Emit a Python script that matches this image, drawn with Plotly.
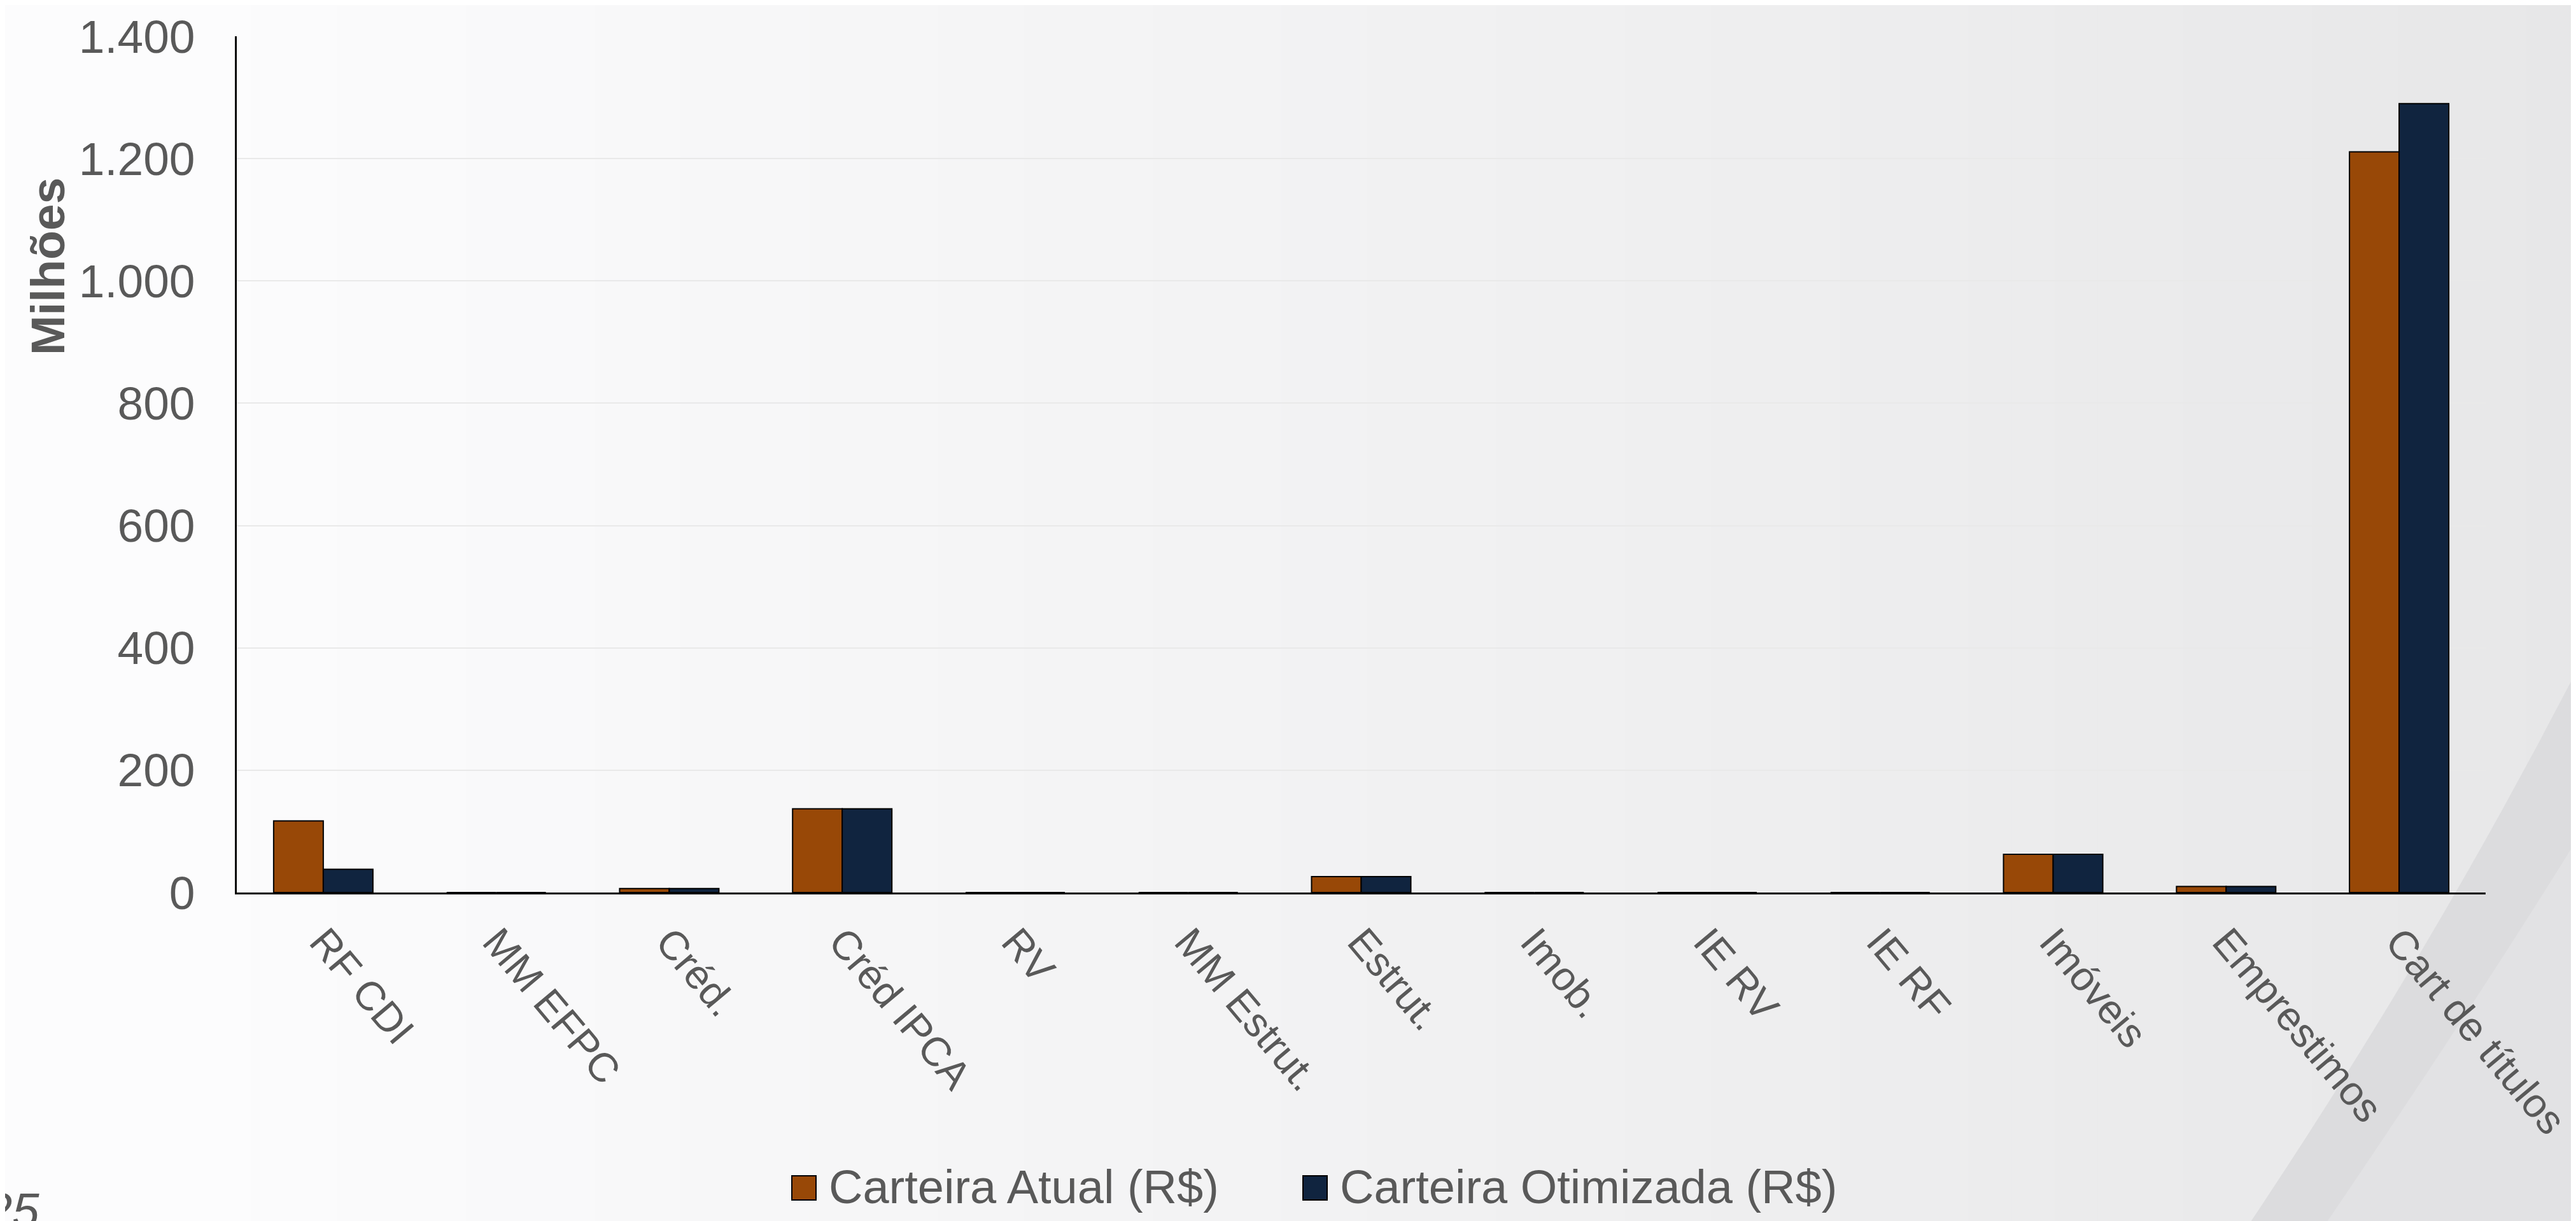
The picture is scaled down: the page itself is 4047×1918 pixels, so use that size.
import plotly.graph_objects as go

categorias = ["RF CDI", "MM EFPC", "Créd.", "Créd IPCA", "RV", "MM Estrut.", "Estrut.",
              "Imob.", "IE RV", "IE RF", "Imóveis", "Emprestimos", "Cart de títulos"]
carteira_atual = [117, 0, 6.5, 137, 0, 0, 26, 0, 0, 0, 62.5, 10, 1211]
carteira_otimizada = [38, 0, 6.5, 137, 0, 0, 26, 0, 0, 0, 62.5, 10, 1290]
y_ticks = [0, 200, 400, 600, 800, 1000, 1200, 1400]

COR_ATUAL = "#984807"
COR_OTIM = "#10243F"
CINZA = "#595959"

W, H = 4047, 1918
OFF = 8  # margem do <body> na página
L, T = 372 - OFF, 57 - OFF
R = W - (3905 - OFF)
B = H - (1402 - OFF)
PW, PH = W - L - R, H - T - B


def px(x):
    # coordenada da página -> paper
    return (x - OFF - L) / PW


def py(y):
    return (H - B - (y - OFF)) / PH


fig = go.Figure()

fig.add_trace(go.Bar(
    x=categorias, y=carteira_atual, name="Carteira Atual (R$)",
    marker=dict(color=COR_ATUAL, line=dict(color="black", width=2)),
))
fig.add_trace(go.Bar(
    x=categorias, y=carteira_otimizada, name="Carteira Otimizada (R$)",
    marker=dict(color=COR_OTIM, line=dict(color="black", width=2)),
))

# fundo em degradê (faixas verticais)
shapes = []
n = 60
for i in range(n):
    x0 = i * W / n
    x1 = (i + 1) * W / n + 2
    t = max(0.0, (x0 - 250) / (W - 250))
    c = int(round(252 - t * 21))
    shapes.append(dict(type="rect", xref="paper", yref="paper",
                       x0=px(x0 - 10), x1=px(x1), y0=py(H + 10), y1=py(-10),
                       fillcolor=f"rgb({c},{c},{min(c + 1, 255)})",
                       line=dict(width=0), layer="below"))

# faixa diagonal no canto inferior direito
path = (f"M {px(3530)},{py(H + 10)} "
        f"Q {px(3830)},{py(1480)} {px(4060)},{py(1030)} "
        f"L {px(4060)},{py(H + 10)} Z")
shapes.append(dict(type="path", xref="paper", yref="paper", path=path,
                   fillcolor="#dcdcde", line=dict(width=0), layer="below"))
path2 = (f"M {px(3650)},{py(H + 10)} "
         f"Q {px(3900)},{py(1560)} {px(4060)},{py(1300)} "
         f"L {px(4060)},{py(H + 10)} Z")
shapes.append(dict(type="path", xref="paper", yref="paper", path=path2,
                   fillcolor="#e2e2e4", line=dict(width=0), layer="below"))

# legenda manual
leg = [(1244, COR_ATUAL, "Carteira Atual (R$)"), (2047, COR_OTIM, "Carteira Otimizada (R$)")]
annotations = []
for x0, cor, txt in leg:
    shapes.append(dict(type="rect", xref="paper", yref="paper",
                       x0=px(x0), x1=px(x0 + 38), y0=py(1885), y1=py(1847),
                       fillcolor=cor, line=dict(color="black", width=2)))
    annotations.append(dict(xref="paper", yref="paper", x=px(x0 + 56), y=py(1864),
                            text=txt, showarrow=False, xanchor="left", yanchor="middle",
                            font=dict(size=74, color=CINZA)))

annotations.append(dict(xref="paper", yref="paper", x=px(75), y=py(419),
                        text="<b>Milhões</b>", textangle=-90, showarrow=False,
                        xanchor="center", yanchor="middle",
                        font=dict(size=75, color=CINZA)))
annotations.append(dict(xref="paper", yref="paper", x=px(64), y=py(1856),
                        text="<i>25</i>", showarrow=False, xanchor="right", yanchor="top",
                        font=dict(size=76, color=CINZA)))

fig.update_layout(
    width=W, height=H,
    margin=dict(l=L, r=R, t=T, b=B, autoexpand=False),
    paper_bgcolor="#fcfcfc",
    plot_bgcolor="rgba(0,0,0,0)",
    font=dict(family="Liberation Sans, Arial, sans-serif", color=CINZA),
    separators=",.",
    barmode="group", bargap=0.426, bargroupgap=0,
    showlegend=False,
    shapes=shapes,
    annotations=annotations,
)
fig.update_xaxes(
    tickangle=50, tickfont=dict(size=64, color=CINZA),
    showline=True, linecolor="black", linewidth=3,
    showgrid=False, ticks="", ticklabelstandoff=11,
)
fig.update_yaxes(
    range=[0, 1400], tickvals=y_ticks, tickformat=",d",
    tickfont=dict(size=73, color=CINZA),
    showline=True, linecolor="black", linewidth=3,
    showgrid=True, gridcolor="#e9e9e9", gridwidth=2,
    zeroline=False, ticks="", ticklabelstandoff=48,
)

fig.write_html("out.html")
